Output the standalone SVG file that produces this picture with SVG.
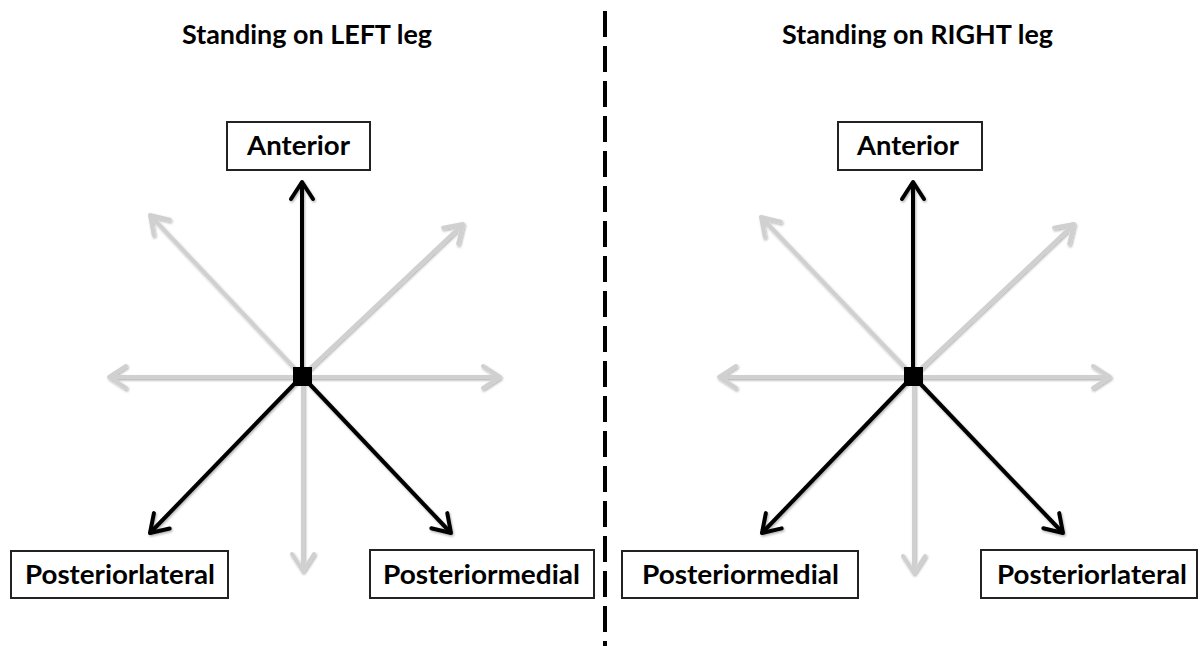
<svg xmlns="http://www.w3.org/2000/svg" width="1200" height="646" viewBox="0 0 1200 646">
<style>
.t{font-family:"Lato","Liberation Sans",sans-serif;font-weight:bold;font-size:26px;fill:#000}
.box{fill:#fff;stroke:#222;stroke-width:2}
.g{stroke:#d0d0d0;stroke-width:4;fill:none;marker-end:url(#mg)}
.b{stroke:#000;stroke-width:4;fill:none;marker-end:url(#mb)}
.div{stroke:#000;stroke-width:4;stroke-dasharray:26 9}
</style>
<defs>
<filter id="sh" x="-10%" y="-10%" width="130%" height="130%">
<feDropShadow dx="1" dy="1.5" stdDeviation="1" flood-color="#000" flood-opacity="0.3"/>
</filter>
<marker id="mg" markerUnits="userSpaceOnUse" viewBox="-22 -16 30 32" markerWidth="30" markerHeight="32" refX="0" refY="0" orient="auto" overflow="visible">
<path d="M-17,-11 L0,0 L-17,11" fill="none" stroke="#d0d0d0" stroke-width="4" stroke-linecap="round" stroke-linejoin="round"/>
</marker>
<marker id="mb" markerUnits="userSpaceOnUse" viewBox="-22 -16 30 32" markerWidth="30" markerHeight="32" refX="0" refY="0" orient="auto" overflow="visible">
<path d="M-17,-11 L0,0 L-17,11" fill="none" stroke="#000" stroke-width="4" stroke-linecap="round" stroke-linejoin="round"/>
</marker>
</defs>
<rect width="1200" height="646" fill="#fff"/>

<g id="titles">
<text class="t" x="182" y="44" textLength="250" lengthAdjust="spacingAndGlyphs">Standing on LEFT leg</text>
<text class="t" x="782" y="44" textLength="271" lengthAdjust="spacingAndGlyphs">Standing on RIGHT leg</text>
</g>

<g id="divider">
<line class="div" x1="605" y1="11" x2="605" y2="646"/>
</g>

<g id="connectors">
<g filter="url(#sh)">
<line class="g" x1="302" y1="376" x2="150" y2="215"/>
<line class="g" x1="302" y1="376" x2="463" y2="224"/>
<line class="g" x1="302" y1="377" x2="109" y2="377"/>
<line class="g" x1="302" y1="377" x2="500" y2="377"/>
<line class="g" x1="303" y1="376" x2="303" y2="571"/>
<line class="b" x1="302" y1="376" x2="302" y2="182"/>
<line class="b" x1="302" y1="376" x2="150" y2="533"/>
<line class="b" x1="302" y1="376" x2="451" y2="533"/>

<line class="g" x1="913" y1="376" x2="761" y2="217"/>
<line class="g" x1="913" y1="376" x2="1074" y2="224"/>
<line class="g" x1="913" y1="377" x2="719" y2="377"/>
<line class="g" x1="913" y1="377" x2="1110" y2="377"/>
<line class="g" x1="914" y1="376" x2="914" y2="573"/>
<line class="b" x1="913" y1="376" x2="913" y2="182"/>
<line class="b" x1="913" y1="376" x2="762" y2="533"/>
<line class="b" x1="913" y1="376" x2="1063" y2="533"/>
</g>
</g>

<g id="center-left"><rect x="293" y="367" width="19" height="19" fill="#000"/></g>
<g id="center-right"><rect x="904" y="367" width="19" height="19" fill="#000"/></g>

<g id="anterior-left">
<rect class="box" x="227" y="122" width="143" height="48"/>
<text class="t" x="247" y="155" textLength="103" lengthAdjust="spacingAndGlyphs">Anterior</text>
</g>
<g id="anterior-right">
<rect class="box" x="838" y="122" width="144" height="48"/>
<text class="t" x="857" y="155" textLength="102" lengthAdjust="spacingAndGlyphs">Anterior</text>
</g>
<g id="posteriorlateral-left">
<rect class="box" x="11" y="551" width="217" height="47"/>
<text class="t" x="25" y="584" textLength="190" lengthAdjust="spacingAndGlyphs">Posteriorlateral</text>
</g>
<g id="posteriormedial-left">
<rect class="box" x="370" y="550" width="224" height="48"/>
<text class="t" x="383" y="584" textLength="197" lengthAdjust="spacingAndGlyphs">Posteriormedial</text>
</g>
<g id="posteriormedial-right">
<rect class="box" x="622" y="551" width="236" height="47"/>
<text class="t" x="642" y="584" textLength="197" lengthAdjust="spacingAndGlyphs">Posteriormedial</text>
</g>
<g id="posteriorlateral-right">
<rect class="box" x="981" y="550" width="216" height="48"/>
<text class="t" x="997" y="584" textLength="190" lengthAdjust="spacingAndGlyphs">Posteriorlateral</text>
</g>
</svg>
